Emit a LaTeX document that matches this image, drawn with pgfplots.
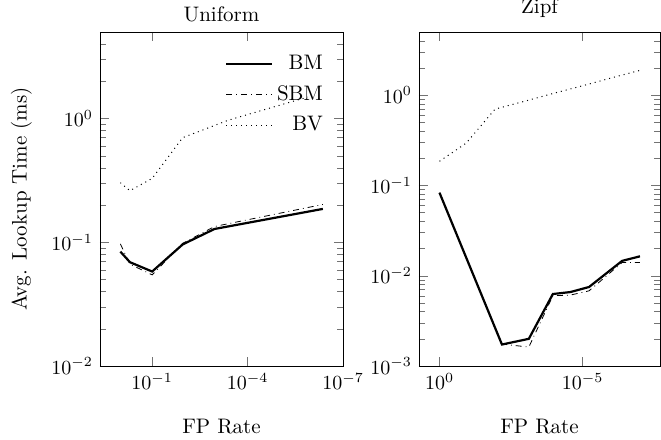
\documentclass[border=0pt]{standalone}
\usepackage{pgfplots}
\pgfplotsset{compat=1.18}
\tikzset{
  bm/.style={black, line width=1.1pt},
  sbm/.style={black, dash dot, line width=0.4pt},
  bv/.style={black, dotted, line width=0.5pt},
}
\begin{document}
\begin{tikzpicture}
\begin{axis}[name=uni, scale only axis, width=121.5pt, height=167pt,
  xmode=log, ymode=log, x dir=reverse,
  tick style={black!55},
  title=Uniform,
  title style={at={(0.5,1)}, anchor=south, yshift=-4.5pt, font=\fontsize{10.5}{12.6}\selectfont},
  xmin=1e-7, xmax=4.37, ymin=0.01, ymax=5,
  xtick={1e-1,1e-4,1e-7},
  xticklabel style={anchor=north},
  xlabel=FP Rate,
  xlabel style={at={(axis description cs:0.5,-0.139)}, anchor=north, font=\fontsize{10.5}{12.6}\selectfont},
  ylabel={Avg. Lookup Time (ms)},
  ylabel style={at={(axis description cs:-0.251,0.5)}, anchor=south, font=\fontsize{10.5}{12.6}\selectfont},
  legend image code/.code={\draw[#1] plot coordinates {(0cm,0cm) (0.8cm,0cm)};},
  legend style={draw=none, fill=none, at={(0.96,0.955)}, anchor=north east,
    row sep=2.5pt, font=\fontsize{10.5}{12.6}\selectfont},
  legend cell align=right]
\addplot[bm] coordinates {
  (1,0.084) (0.5,0.069) (0.1,0.058) (0.011,0.096) (0.0011,0.128) (4.3e-7,0.186)
};
\addplot[sbm] coordinates {
  (1,0.097) (0.5,0.0665) (0.1,0.0545) (0.011,0.098) (0.0011,0.134) (4.3e-7,0.202)
};
\addplot[bv] coordinates {
  (1,0.303) (0.5,0.261) (0.1,0.328) (0.011,0.70) (4e-4,0.97) (1.3e-6,1.49)
};
\legend{BM, SBM, BV}
\end{axis}
\begin{axis}[at={(159.5pt,0pt)}, scale only axis, width=120.5pt, height=167pt,
  xmode=log, ymode=log, x dir=reverse,
  tick style={black!55},
  title=Zipf,
  title style={at={(0.5,1)}, anchor=south, yshift=-2.5pt, font=\fontsize{10.5}{12.6}\selectfont},
  xmin=2e-8, xmax=5.2, ymin=0.001, ymax=5,
  xtick={1,1e-5},
  xticklabel style={anchor=north},
  xlabel=FP Rate,
  xlabel style={at={(axis description cs:0.5,-0.139)}, anchor=north, font=\fontsize{10.5}{12.6}\selectfont}]
\addplot[bm] coordinates {
  (1,0.083) (6.6e-3,0.00173) (7.6e-4,0.0020) (1.1e-4,0.00627) (2.7e-5,0.00659)
  (6e-6,0.0075) (4.2e-7,0.0146) (1e-7,0.0164)
};
\addplot[sbm] coordinates {
  (1,0.083) (6.6e-3,0.00175) (7.6e-4,0.00162) (1.1e-4,0.0060) (2.7e-5,0.0061)
  (6e-6,0.0068) (4.2e-7,0.014) (1e-7,0.014)
};
\addplot[bv] coordinates {
  (1,0.185) (0.117,0.294) (0.0115,0.70) (1e-3,0.86) (1e-4,1.05) (1e-5,1.27)
  (1e-6,1.55) (1e-7,1.88)
};
\end{axis}
\pgfresetboundingbox
\path[use as bounding box] (-50pt,-37pt) rectangle (280.5pt,183pt);
\end{tikzpicture}
\end{document}
